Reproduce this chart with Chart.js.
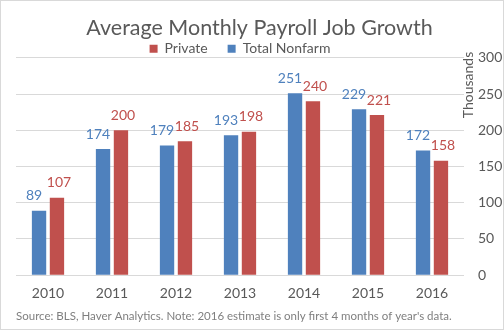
<!DOCTYPE html>
<html lang="en">
<head>
  <meta charset="UTF-8">
  <title>Average Monthly Payroll Job Growth</title>
  <script src="https://cdn.jsdelivr.net/npm/chart.js"></script>
  <style>
    body {
      margin: 0;
      background: #fff;
    }
    .wrap {
      width: 504px;
      height: 330px;
      box-sizing: border-box;
      border: 1px solid #d9d9d9;
      position: relative;
    }
  </style>
</head>
<body>

<div class="wrap">
  <canvas id="jobsChart" width="502" height="328"></canvas>
</div>

<script>
  const years = ['2010', '2011', '2012', '2013', '2014', '2015', '2016'];
  const totalNonfarm = [89, 174, 179, 193, 251, 229, 172];
  const privateJobs = [107, 200, 185, 198, 240, 221, 158];
  const yTicks = [0, 50, 100, 150, 200, 250, 300];

  const BLUE = '#4F81BD';
  const RED = '#C0504D';
  const GREY = '#595959';
  const FONT = 'Lato, "Open Sans", sans-serif';

  // value labels above bars, blue ones nudged left like excel does
  const barLabels = {
    id: 'barLabels',
    afterDatasetsDraw(chart) {
      const ctx = chart.ctx;
      ctx.save();
      ctx.font = '14px ' + FONT;
      ctx.textAlign = 'center';
      ctx.textBaseline = 'middle';
      chart.data.datasets.forEach((ds, i) => {
        const meta = chart.getDatasetMeta(i);
        ctx.fillStyle = ds.backgroundColor;
        meta.data.forEach((bar, j) => {
          const dx = i === 0 ? -5 : 2;
          ctx.fillText(ds.data[j], bar.x + dx, bar.y - 15);
        });
      });
      ctx.restore();
    }
  };

  // axis title sits between plot and tick labels in the original
  const sideTitle = {
    id: 'sideTitle',
    afterDraw(chart) {
      const ctx = chart.ctx;
      ctx.save();
      ctx.font = '14px ' + FONT;
      ctx.fillStyle = GREY;
      ctx.textAlign = 'center';
      ctx.textBaseline = 'middle';
      ctx.translate(chart.chartArea.right + 4, 84);
      ctx.rotate(-Math.PI / 2);
      ctx.fillText('Thousands', 0, 0);
      ctx.restore();
    }
  };

  // legend keeps wide gaps between items but should not eat the plot's height
  const shortLegend = {
    id: 'shortLegend',
    beforeLayout(chart) {
      const lg = chart.legend;
      if (lg && !lg._short) {
        const fit = lg.fit.bind(lg);
        lg.fit = function () {
          fit();
          this.height = 36;
        };
        lg._short = true;
      }
    }
  };

  const chart = new Chart(document.getElementById('jobsChart'), {
    type: 'bar',
    data: {
      labels: years,
      datasets: [
        {
          label: 'Total Nonfarm',
          data: totalNonfarm,
          backgroundColor: BLUE,
          categoryPercentage: 0.56,
          barPercentage: 0.8
        },
        {
          label: 'Private',
          data: privateJobs,
          backgroundColor: RED,
          categoryPercentage: 0.56,
          barPercentage: 0.8
        }
      ]
    },
    options: {
      responsive: false,
      animation: false,
      layout: {
        padding: { left: 15, right: 0, top: 0, bottom: 6 }
      },
      plugins: {
        title: {
          display: true,
          text: 'Average Monthly Payroll Job Growth',
          color: GREY,
          font: { family: FONT, size: 21.5, weight: 'normal' },
          padding: { top: 14, bottom: -19 }
        },
        legend: {
          reverse: true,
          fullSize: false,
          labels: {
            color: GREY,
            font: { family: FONT, size: 14 },
            boxWidth: 8,
            boxHeight: 8,
            padding: 20
          }
        },
        subtitle: {
          display: true,
          position: 'bottom',
          align: 'start',
          text: "Source: BLS, Haver Analytics. Note: 2016 estimate is only first 4 months of year's data.",
          color: '#7f7f7f',
          font: { family: FONT, size: 11.5 },
          padding: { top: 3, bottom: 0 }
        },
        tooltip: { enabled: false }
      },
      scales: {
        x: {
          grid: { display: false, drawTicks: false },
          border: { display: false },
          afterFit(scale) {
            scale.height = 31;
          },
          ticks: {
            color: GREY,
            font: { family: FONT, size: 14 },
            padding: 10
          }
        },
        y: {
          position: 'right',
          min: 0,
          max: 300,
          afterBuildTicks(scale) {
            scale.ticks = yTicks.map(v => ({ value: v }));
          },
          afterFit(scale) {
            scale.width = 39;
          },
          grid: { color: '#d9d9d9', drawTicks: false },
          border: { display: false },
          ticks: {
            color: GREY,
            font: { family: FONT, size: 14 },
            padding: 14
          }
        }
      }
    },
    plugins: [barLabels, sideTitle, shortLegend]
  });
</script>

</body>
</html>
